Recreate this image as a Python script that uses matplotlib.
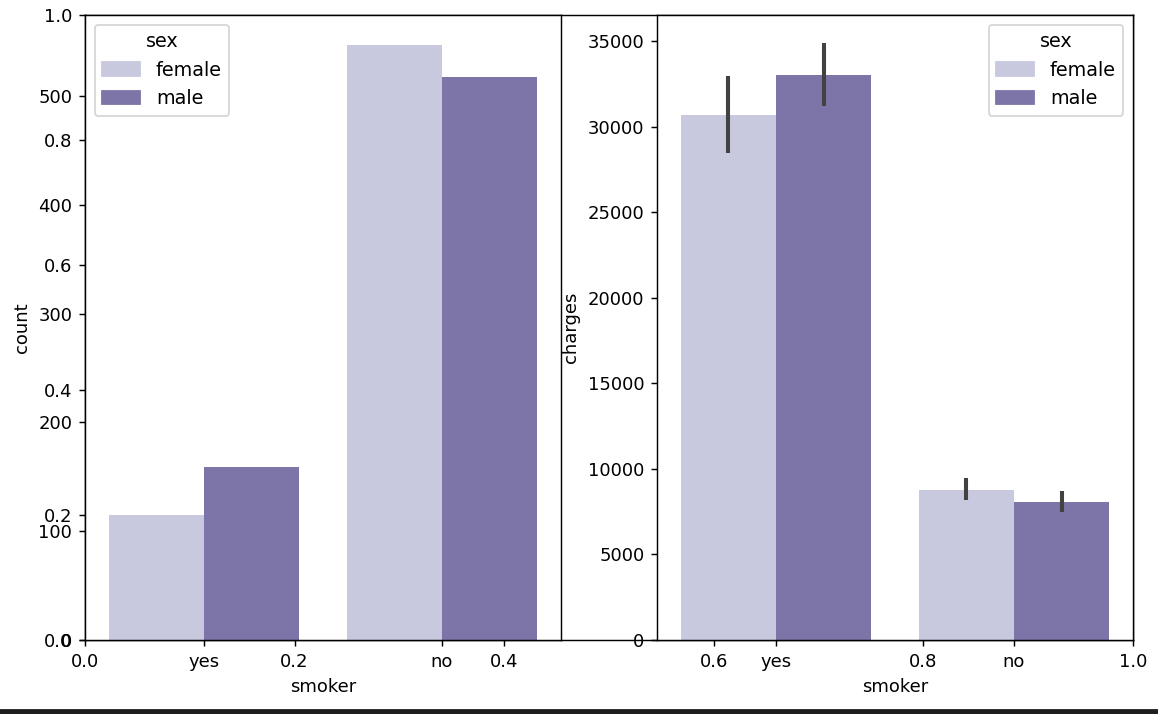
import numpy as np
import matplotlib
matplotlib.use("Agg")
import matplotlib.pyplot as plt
from matplotlib.patches import Patch, Rectangle

smoker = ["yes", "no"]
sexes = ["female", "male"]
count_female = [115, 547]
count_male = [159, 517]
charges_female = [30679, 8762]
charges_male = [33042, 8087]
ci_female = [(28456, 32972), (8180, 9448)]
ci_male = [(31202, 34901), (7479, 8724)]

FEMALE = "#c8c9df"
MALE = "#7d75a7"
ERR = "#424242"

DPI = 130
fig = plt.figure(figsize=(1158 / DPI, 714 / DPI), dpi=DPI)

# stray background axes spanning both panels
bg = fig.add_axes([0.0734, 0.1036, 0.905, 0.8754])
bg.set_xlim(0, 1)
bg.set_ylim(0, 1)

ax1 = fig.add_axes([0.0734, 0.1036, 0.411, 0.8754])
ax2 = fig.add_axes([0.5674, 0.1036, 0.411, 0.8754])

x = np.arange(len(smoker))
w = 0.4

ax1.bar(x - w / 2, count_female, w, color=FEMALE)
ax1.bar(x + w / 2, count_male, w, color=MALE)
ax1.set_xticks(x)
ax1.set_xticklabels(smoker)
ax1.set_xlim(-0.5, 1.5)
ax1.set_ylim(0, max(count_female + count_male) * 1.05)
ax1.set_xlabel("smoker")
ax1.set_ylabel("count")

ax2.bar(x - w / 2, charges_female, w, color=FEMALE)
ax2.bar(x + w / 2, charges_male, w, color=MALE)
for i in range(len(smoker)):
    ax2.vlines(x[i] - w / 2, ci_female[i][0], ci_female[i][1], color=ERR, lw=2.25)
    ax2.vlines(x[i] + w / 2, ci_male[i][0], ci_male[i][1], color=ERR, lw=2.25)
ax2.set_xticks(x)
ax2.set_xticklabels(smoker)
ax2.set_xlim(-0.5, 1.5)
ax2.set_ylim(0, 36520)
ax2.set_xlabel("smoker")
ax2.set_ylabel("charges")

handles = [Patch(color=FEMALE, label="female"), Patch(color=MALE, label="male")]
ax1.legend(handles=handles, title="sex", loc="upper left",
           fontsize=10.6, title_fontsize=10.6)
ax2.legend(handles=handles, title="sex", loc="upper right",
           fontsize=10.6, title_fontsize=10.6)

# dark strip along the bottom edge
fig.add_artist(Rectangle((0, 0), 1, 0.0055, transform=fig.transFigure,
                         color="#1e1e1e", zorder=10))

fig.savefig("out.png", dpi=DPI)
